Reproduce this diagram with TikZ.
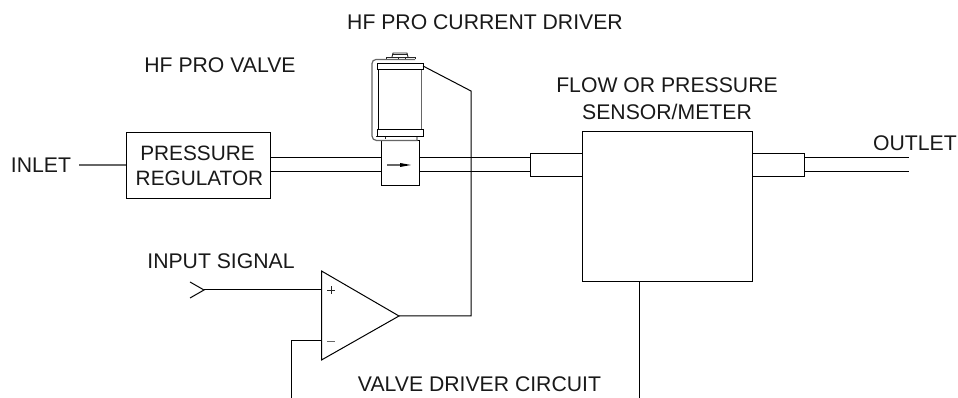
\documentclass[tikz,border=0pt]{standalone}
\usepackage{fontspec}
\setmainfont{Liberation Sans}
\tikzset{
  wire/.style={draw=black,line width=0.75pt},
  thin wire/.style={draw=black!85,line width=0.7pt},
  gray wire/.style={draw=black!60,line width=0.9pt},
  label/.style={font=\fontsize{15.9}{18}\selectfont,inner sep=0pt,align=center,text=black!90},
  box/.style={draw=black,line width=0.75pt,fill=white,inner sep=0pt,minimum width=0pt},
}
\begin{document}
\begin{tikzpicture}[x=0.75pt,y=-0.75pt]
\useasboundingbox (0,0) rectangle (958,398);
% pipes
\coordinate (p1a) at (270,157.5); \coordinate (p1b) at (530,157.5);
\coordinate (p2a) at (270,172); \coordinate (p2b) at (530,172);
\draw[wire] (p1a) -- (p1b);
\draw[wire] (p2a) -- (p2b);
\coordinate (q1a) at (804,157.5); \coordinate (q1b) at (909,157.5);
\coordinate (q2a) at (804,172); \coordinate (q2b) at (909,172);
\draw[wire] (q1a) -- (q1b);
\draw[wire] (q2a) -- (q2b);
% regulator
\node[box,anchor=north west,minimum width=144*0.75pt,minimum height=66*0.75pt] (reg) at (125.5,132) {};
\node[label,font=\fontsize{15.6}{18}\selectfont] (regt) at (197.5,153) {PRESSURE};
\node[label,font=\fontsize{15.6}{18}\selectfont] (regu) at (199.5,178) {REGULATOR};
\node[label] (inlet) at (41,165.5) {INLET};
\coordinate (inl) at (79,165);
\draw[gray wire] (inl) -- (reg.west |- inl);
% valve body
\node[box,anchor=north west,minimum width=37.5*0.75pt,minimum height=45*0.75pt] (valve) at (381,140.5) {};
\coordinate (ar1) at (387,165); \coordinate (ar2) at (400,165); \coordinate (ar3) at (411,165);
\draw[gray wire] (ar1) -- (ar2);
\fill[black] (400,163) -- (ar3) -- (400,167) -- cycle;
% solenoid
\draw[gray wire] (415,59.5) -- (376,59.5) arc[start angle=-90,end angle=-180,radius=4] -- (372,136) arc[start angle=180,end angle=90,radius=4.5] -- (417,140.5) -- (417,136);
\draw[thin wire] (376,136.5) -- (417,136.5);
\draw[thin wire] (385,136) -- (385,139);
\draw[wire] (378,69) -- (378,129);
\draw[gray wire] (421.5,69) -- (421.5,129);
\node[box,anchor=north west,minimum width=46*0.75pt,minimum height=6*0.75pt] (topbar) at (376.5,63) {};
\node[box,anchor=north west,minimum width=46*0.75pt,minimum height=6.5*0.75pt] (botbar) at (376.5,129.5) {};
\draw[thin wire] (386,59.5) -- (386,57) -- (415,57) -- (415,59.5);
\draw[thin wire] (392,57) -- (393,53) -- (407,53) -- (408,57);
\draw[thin wire] (393,54.5) -- (407,54.5);
\draw[thin wire] (398,57) -- (398,59.5);
\draw[thin wire] (405,57) -- (405,59.5);
% sensor
\node[box,anchor=north west,minimum width=170*0.75pt,minimum height=150*0.75pt] (sens) at (582,131) {};
\node[box,anchor=north west,minimum width=52*0.75pt,minimum height=23*0.75pt] (cl) at (530,153.5) {};
\node[box,anchor=north west,minimum width=52*0.75pt,minimum height=23*0.75pt] (cr) at (752,153.5) {};
\coordinate (stem) at (639,398);
\draw[wire] (stem |- sens.south) -- (stem);
% amp
\coordinate (ampa) at (321.5,271); \coordinate (ampb) at (321.5,360); \coordinate (ampc) at (399,316);
\draw[wire,line join=miter] (ampa) -- (ampb) -- (ampc) -- cycle;
\coordinate (chev) at (204,290);
\coordinate (plus) at (321.5,290);
\coordinate (minus) at (321.5,341);
\draw[wire] (chev) -- (plus);
\draw[wire] (190,282) -- (chev) -- (190,298);
\draw[thin wire] (327,290.5) -- (335,290.5) (331,286.5) -- (331,294.5);
\draw[gray wire] (327,341.5) -- (335,341.5);
\coordinate (fb) at (291,398);
\draw[wire] (minus) -- (fb |- minus) -- (fb);
% control wire
\coordinate (w1) at (423,66); \coordinate (w2) at (471,91); \coordinate (w3) at (471,316);
\draw[wire] (w1) -- (w2) -- (w3) -- (ampc);
% labels
\node[label] (t1) at (485,22) {HF PRO CURRENT DRIVER};
\node[label] (t2) at (220,65) {HF PRO VALVE};
\node[label] (t3) at (667,85) {FLOW OR PRESSURE};
\node[label] (t3b) at (667,112) {SENSOR/METER};
\node[label] (t4) at (915,143) {OUTLET};
\node[label] (t5) at (221,261) {INPUT SIGNAL};
\node[label] (t6) at (479.5,384.5) {VALVE DRIVER CIRCUIT};
\end{tikzpicture}
\end{document}
